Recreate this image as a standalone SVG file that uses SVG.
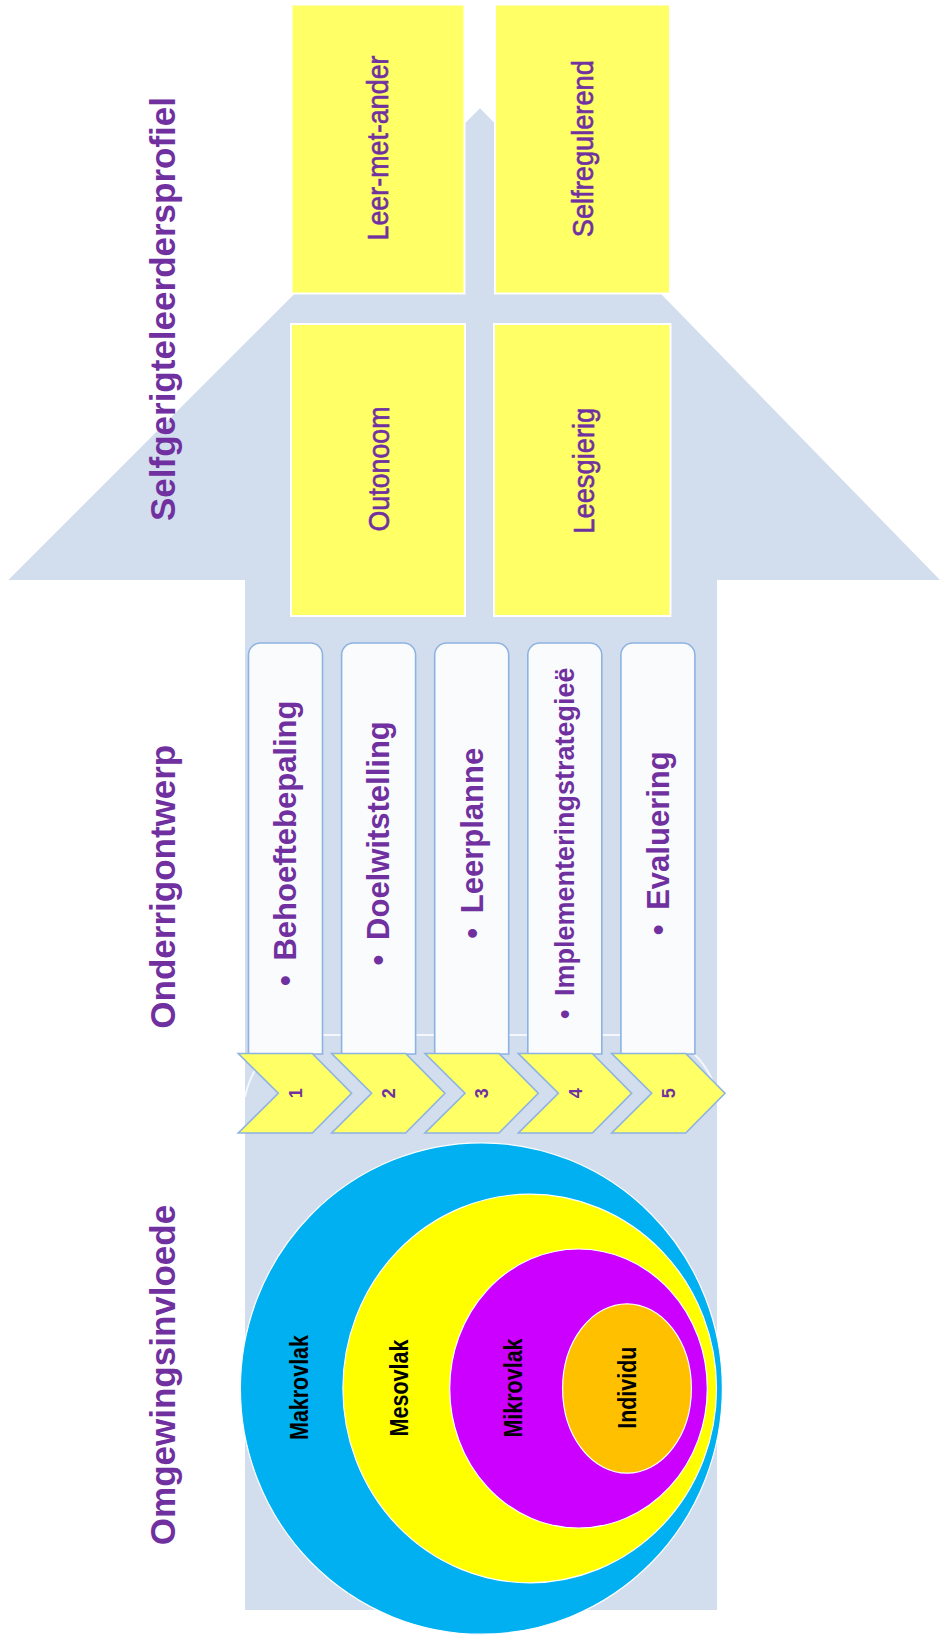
<svg xmlns="http://www.w3.org/2000/svg" width="940" height="1637" viewBox="0 0 940 1637">
  <defs>
    <style>
      .title { font-family: "Liberation Sans", Arial, sans-serif; font-weight: bold; font-size: 35px; fill: #7030A0; text-anchor: middle; }
      .ybox { fill: #FFFF66; stroke: #FFFFFF; stroke-width: 2; }
      .ytext { font-family: "Liberation Sans", Arial, sans-serif; font-size: 30px; fill: #7030A0; stroke: #7030A0; stroke-width: 0.6; text-anchor: middle; }
      .step { fill: #F9FBFD; stroke: #8DB3E2; stroke-width: 1.6; }
      .steptext { font-family: "Liberation Sans", Arial, sans-serif; font-weight: bold; font-size: 31px; fill: #7030A0; text-anchor: middle; }
      .chev { fill: #FFFF66; stroke: #8DB3E2; stroke-width: 1.6; stroke-linejoin: miter; }
      .num { font-family: "Liberation Sans", Arial, sans-serif; font-weight: bold; font-size: 18px; fill: #7030A0; text-anchor: middle; }
      .ring { stroke: #FFFFFF; stroke-width: 1.2; }
      .ctext { font-family: "Liberation Sans", Arial, sans-serif; font-weight: bold; font-size: 26px; fill: #000000; text-anchor: middle; }
    </style>
  </defs>

  <rect x="0" y="0" width="940" height="1637" fill="#FFFFFF"/>

  <!-- big background arrow -->
  <g id="arrow">
    <polygon points="245,1610 245,580 8.3,580 480,108.3 940,580 717,580 717,1610" fill="#D2DDED"/>
  </g>

  <!-- titles -->
  <g id="title-profiel">
    <text class="title" transform="translate(0,309) rotate(-90)" x="0" y="175">Selfgerigteleerdersprofiel</text>
  </g>
  <g id="title-ontwerp">
    <text class="title" transform="translate(0,886.7) rotate(-90)" x="0" y="175">Onderrigontwerp</text>
  </g>
  <g id="title-invloede">
    <text class="title" transform="translate(0,1375) rotate(-90)" x="0" y="175">Omgewingsinvloede</text>
  </g>

  <!-- profile boxes -->
  <g id="box-leer-met-ander">
    <rect class="ybox" x="291.5" y="4.5" width="173" height="289"/>
    <text class="ytext" transform="translate(0,148) rotate(-90)" x="0" y="388" textLength="185" lengthAdjust="spacingAndGlyphs">Leer-met-ander</text>
  </g>
  <g id="box-selfregulerend">
    <rect class="ybox" x="495" y="4.5" width="175" height="289"/>
    <text class="ytext" transform="translate(0,148.7) rotate(-90)" x="0" y="593" textLength="177" lengthAdjust="spacingAndGlyphs">Selfregulerend</text>
  </g>
  <g id="box-outonoom">
    <rect class="ybox" x="291" y="324" width="174" height="292"/>
    <text class="ytext" transform="translate(0,469) rotate(-90)" x="0" y="388.5" textLength="125" lengthAdjust="spacingAndGlyphs">Outonoom</text>
  </g>
  <g id="box-leesgierig">
    <rect class="ybox" x="494" y="324" width="176.5" height="292"/>
    <text class="ytext" transform="translate(0,470.7) rotate(-90)" x="0" y="593.5" textLength="126" lengthAdjust="spacingAndGlyphs">Leesgierig</text>
  </g>

  <!-- faint background outline of the process block -->
  <g id="connectors">
    <path d="M 245 1097 Q 258 1036 325 1035 L 640 1035 Q 702 1036 718 1097" fill="none" stroke="#FFFFFF" stroke-width="2" stroke-opacity="0.75"/>
  </g>

  <!-- process steps -->
  <g id="step-1">
    <path class="step" d="M248.5,1054 V655 A12,12 0 0 1 260.5,643 H310.5 A12,12 0 0 1 322.5,655 V1054 Z"/>
    <text class="steptext" transform="translate(0,843.3) rotate(-90)" x="0" y="296.3">• <tspan dx="6">Behoeftebepaling</tspan></text>
  </g>
  <g id="step-2">
    <path class="step" d="M341.6,1054 V655 A12,12 0 0 1 353.6,643 H403.6 A12,12 0 0 1 415.6,655 V1054 Z"/>
    <text class="steptext" transform="translate(0,843.3) rotate(-90)" x="0" y="389.4">• <tspan dx="6">Doelwitstelling</tspan></text>
  </g>
  <g id="step-3">
    <path class="step" d="M434.7,1054 V655 A12,12 0 0 1 446.7,643 H496.7 A12,12 0 0 1 508.7,655 V1054 Z"/>
    <text class="steptext" transform="translate(0,843.3) rotate(-90)" x="0" y="482.5">• <tspan dx="6">Leerplanne</tspan></text>
  </g>
  <g id="step-4">
    <path class="step" d="M527.8,1054 V655 A12,12 0 0 1 539.8,643 H589.8 A12,12 0 0 1 601.8,655 V1054 Z"/>
    <text class="steptext" transform="translate(0,843.3) rotate(-90)" x="0" y="574.3" style="font-size:27px">• <tspan dx="6">Implementeringstrategieë</tspan></text>
  </g>
  <g id="step-5">
    <path class="step" d="M620.9,1054 V655 A12,12 0 0 1 632.9,643 H682.9 A12,12 0 0 1 694.9,655 V1054 Z"/>
    <text class="steptext" transform="translate(0,843.3) rotate(-90)" x="0" y="668.7">• <tspan dx="6">Evaluering</tspan></text>
  </g>

  <!-- chevrons -->
  <g id="chevron-1">
    <polygon class="chev" points="238.3,1053.5 312.3,1053.5 351.6,1093.2 312.3,1133 238.3,1133 278.3,1093.2"/>
    <text class="num" transform="translate(0,1093.2) rotate(-90)" x="0" y="301.7">1</text>
  </g>
  <g id="chevron-2">
    <polygon class="chev" points="331.65,1053.5 405.65,1053.5 444.95,1093.2 405.65,1133 331.65,1133 371.65,1093.2"/>
    <text class="num" transform="translate(0,1093.2) rotate(-90)" x="0" y="395">2</text>
  </g>
  <g id="chevron-3">
    <polygon class="chev" points="425,1053.5 499,1053.5 538.3,1093.2 499,1133 425,1133 465,1093.2"/>
    <text class="num" transform="translate(0,1093.2) rotate(-90)" x="0" y="488.4">3</text>
  </g>
  <g id="chevron-4">
    <polygon class="chev" points="518.35,1053.5 592.35,1053.5 631.65,1093.2 592.35,1133 518.35,1133 558.35,1093.2"/>
    <text class="num" transform="translate(0,1093.2) rotate(-90)" x="0" y="581.8">4</text>
  </g>
  <g id="chevron-5">
    <polygon class="chev" points="611.7,1053.5 685.7,1053.5 725,1093.2 685.7,1133 611.7,1133 651.7,1093.2"/>
    <text class="num" transform="translate(0,1093.2) rotate(-90)" x="0" y="675.1">5</text>
  </g>

  <!-- environment circles -->
  <g id="makrovlak">
    <ellipse class="ring" cx="481.4" cy="1388.5" rx="241" ry="245.7" fill="#00B0F0"/>
    <text class="ctext" transform="translate(0,1387.5) rotate(-90)" x="0" y="308.3" textLength="105" lengthAdjust="spacingAndGlyphs">Makrovlak</text>
  </g>
  <g id="mesovlak">
    <ellipse class="ring" cx="529.7" cy="1388.5" rx="186.8" ry="194.3" fill="#FFFF00"/>
    <text class="ctext" transform="translate(0,1388) rotate(-90)" x="0" y="408.3" textLength="97" lengthAdjust="spacingAndGlyphs">Mesovlak</text>
  </g>
  <g id="mikrovlak">
    <ellipse class="ring" cx="578.5" cy="1388.5" rx="128.8" ry="139.5" fill="#CC00FF"/>
    <text class="ctext" transform="translate(0,1388) rotate(-90)" x="0" y="522" textLength="99" lengthAdjust="spacingAndGlyphs">Mikrovlak</text>
  </g>
  <g id="individu">
    <ellipse class="ring" cx="627" cy="1388.5" rx="64.4" ry="84.7" fill="#FFC000"/>
    <text class="ctext" transform="translate(0,1387.7) rotate(-90)" x="0" y="635.6" textLength="82" lengthAdjust="spacingAndGlyphs">Individu</text>
  </g>
</svg>
